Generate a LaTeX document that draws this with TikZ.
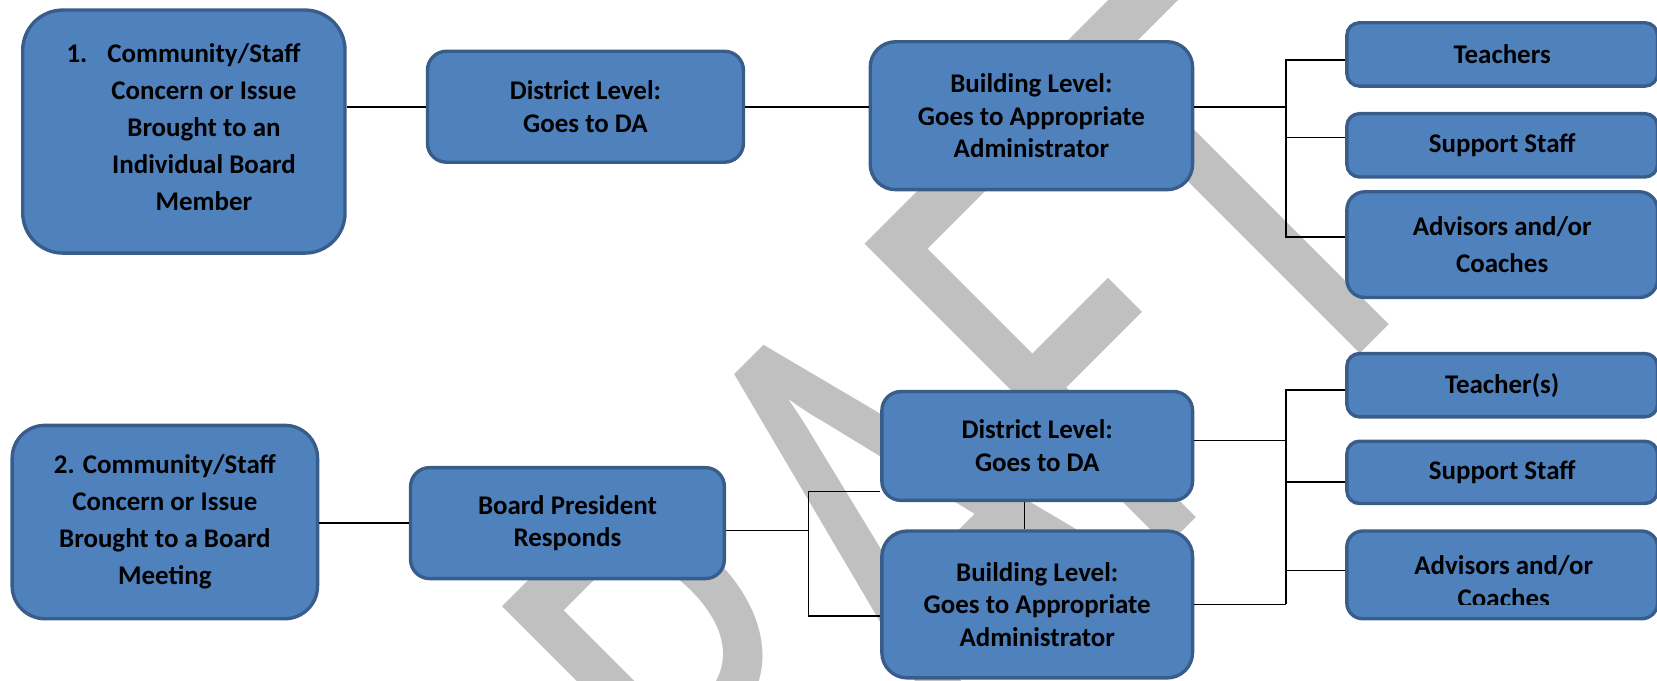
\documentclass[tikz,border=0pt]{standalone}
\usepackage{fontspec}
\setmainfont{Carlito}
\usetikzlibrary{positioning}

\definecolor{boxfill}{HTML}{4F81BD}
\definecolor{boxedge}{HTML}{385D8A}
\definecolor{draftgray}{HTML}{C0C0C0}

\newcommand{\boxfont}{\bfseries\fontsize{25.5}{31}\selectfont}
\newcommand{\loosefont}{\bfseries\fontsize{25.5}{35}\selectfont}

\tikzset{
  flowbox/.style={draw=boxedge, fill=boxfill, line width=3.2pt, inner sep=0pt, align=center, font=\boxfont},
  sidebox/.style={flowbox, minimum width=294pt, rounded corners=12pt},
  every label/.style={font=\boxfont, align=center, inner sep=0pt},
  link/.style={line width=1.5pt},
}

\begin{document}
\begin{tikzpicture}[x=1pt, y=-1pt]
    \useasboundingbox (0,0) rectangle (1568,644.4);
    \clip (0,0) rectangle (1568,644.4);

    % watermark
    \node[anchor=base west, inner sep=0pt, rotate=45, yscale=1.45, text=draftgray, font=\fontsize{435}{435}\selectfont] (draft) at (550,1072) {DRAFT};

    % first route
    \node[flowbox, minimum width=305pt, minimum height=230pt, rounded corners=38pt,
          label={[font=\loosefont, xshift=19pt, yshift=4pt]center:{\llap{1.\hspace{19pt}}Community/Staff\\Concern or Issue\\Brought to an\\Individual Board\\Member}}] (mem1) at (174,124.5) {};
    \node[flowbox, minimum width=299pt, minimum height=105pt, rounded corners=18pt] (dist1) at (554,101) {District Level:\\Goes to DA};
    \node[flowbox, minimum width=305pt, minimum height=140pt, rounded corners=24pt] (bldg1) at (976,109.5) {Building Level:\\Goes to Appropriate\\Administrator};
    \node[sidebox, minimum height=60pt] (teach1) at (1421.5,51.5) {Teachers};
    \node[sidebox, minimum height=60pt] (supp1) at (1421.5,137.5) {Support Staff};
    \node[sidebox, minimum height=100pt, rounded corners=17pt, font=\loosefont] (adv1) at (1421.5,231.5) {Advisors and/or\\Coaches};

    % second route
    \node[flowbox, minimum width=289pt, minimum height=183pt, rounded corners=31pt, font=\loosefont] (mem2) at (156,494) {2. Community/Staff\\Concern or Issue\\Brought to a Board\\Meeting};
    \node[flowbox, minimum width=297pt, minimum height=105pt, rounded corners=18pt] (pres) at (537,495) {Board President\\Responds};
    \node[flowbox, minimum width=294pt, minimum height=103pt, rounded corners=18pt] (dist2) at (981.5,422) {District Level:\\Goes to DA};
    \node[flowbox, minimum width=294pt, minimum height=139pt, rounded corners=24pt] (bldg2) at (981.5,572) {Building Level:\\Goes to Appropriate\\Administrator};
    \node[sidebox, minimum height=60pt] (teach2) at (1421.5,364.5) {Teacher(s)};
    \node[sidebox, minimum height=59pt] (supp2) at (1421.5,447) {Support Staff};
    \node[sidebox, minimum height=83pt, rounded corners=15pt] (adv2) at (1421.5,544) {};
    \begin{scope}
        \clip (adv2.north west) rectangle (1568,572);
        \node[font=\boxfont, align=center, inner sep=0pt] (adv2text) at (1423,550.5) {Advisors and/or\\Coaches};
    \end{scope}

    % connectors, first route
    \coordinate (topj) at (1217,101);
    \coordinate (topa) at (1217,57);
    \coordinate (topb) at (1217,130);
    \coordinate (topc) at (1217,224);
    \draw[link] (mem1.east |- dist1.west) -- (dist1.west);
    \draw[link] (dist1.east) -- (bldg1.west |- dist1.east);
    \draw[link] (bldg1.east |- topj) -- (topj);
    \draw[link] (topa -| teach1.west) -- (topa) -- (topc) -- (topc -| adv1.west);
    \draw[link] (topb) -- (topb -| supp1.west);

    % connectors, second route
    \coordinate (lowj) at (765,502);
    \coordinate (lowa) at (765,465);
    \coordinate (lowb) at (765,583);
    \coordinate (rtj) at (1217,417);
    \coordinate (rta) at (1217,369);
    \coordinate (rtb) at (1217,456);
    \coordinate (rtc) at (1217,540);
    \coordinate (rtd) at (1217,572);
    \draw[link] (mem2.east |- pres.west) -- (pres.west);
    \draw[link] (pres.east |- lowj) -- (lowj);
    \draw[link] (lowa -| dist2.west) -- (lowa) -- (lowb) -- (lowb -| bldg2.west);
    \draw[link] ([xshift=-12pt]dist2.south) -- ([xshift=-12pt]bldg2.north);
    \draw[link] (dist2.east |- rtj) -- (rtj);
    \draw[link] (bldg2.east |- rtd) -- (rtd);
    \draw[link] (rta -| teach2.west) -- (rta) -- (rtd);
    \draw[link] (rtb) -- (rtb -| supp2.west);
    \draw[link] (rtc) -- (rtc -| adv2.west);
\end{tikzpicture}
\end{document}
